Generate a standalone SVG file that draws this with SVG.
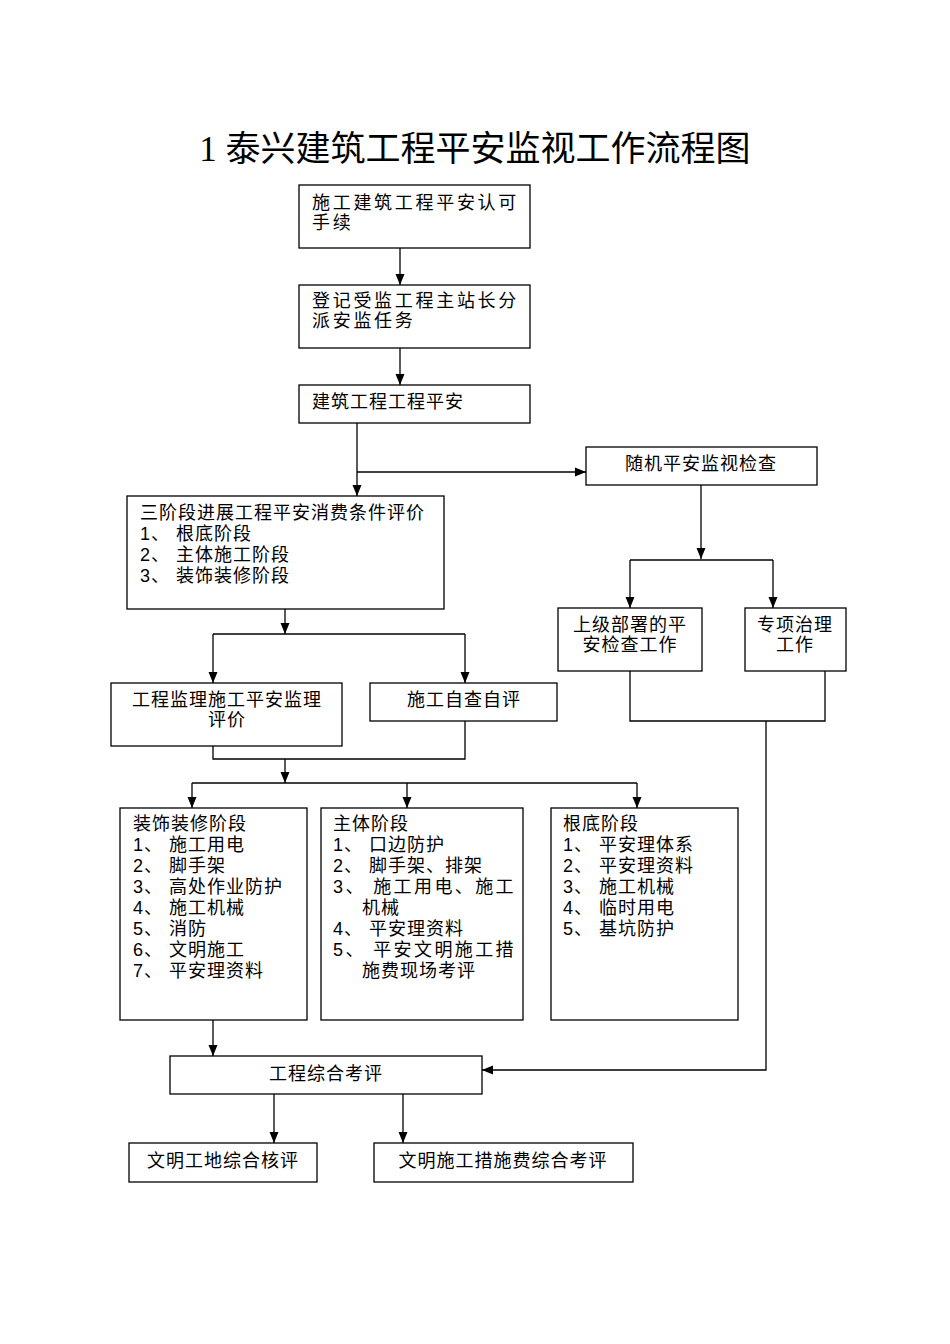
<svg xmlns="http://www.w3.org/2000/svg" width="950" height="1344" viewBox="0 0 950 1344">
<style>
.box{fill:#fff;stroke:#000;stroke-width:1.3}
.t{font-family:"Liberation Sans","Noto Sans CJK SC",sans-serif;font-size:18px;letter-spacing:1px;fill:#000}
.w{letter-spacing:2.7px}
.c{text-anchor:middle}
.ln{fill:none;stroke:#000;stroke-width:1.3}
.title{font-family:"Liberation Serif","Noto Sans CJK SC",serif;font-size:35px;fill:#000;text-anchor:middle}
</style>
<defs>
<marker id="ar" markerUnits="userSpaceOnUse" markerWidth="12" markerHeight="12" viewBox="0 0 12 12" refX="11" refY="6" orient="auto">
<path d="M0,1.5 L11,6 L0,10.5 Z" fill="#000"/>
</marker>
</defs>
<rect width="950" height="1344" fill="#fff"/>
<text class="title" x="475" y="161">1 泰兴建筑工程平安监视工作流程图</text>

<g id="connectors">
<path class="ln" d="M400,248 V285" marker-end="url(#ar)"/>
<path class="ln" d="M400,348 V385" marker-end="url(#ar)"/>
<path class="ln" d="M357,423 V496" marker-end="url(#ar)"/>
<path class="ln" d="M357,472 H586" marker-end="url(#ar)"/>
<path class="ln" d="M701,485 V559" marker-end="url(#ar)"/>
<path class="ln" d="M630,560 H773"/>
<path class="ln" d="M630,560 V608" marker-end="url(#ar)"/>
<path class="ln" d="M773,560 V608" marker-end="url(#ar)"/>
<path class="ln" d="M630,671 V721 H825 V671"/>
<path class="ln" d="M766,721 V1070 H482" marker-end="url(#ar)"/>
<path class="ln" d="M285,609 V634" marker-end="url(#ar)"/>
<path class="ln" d="M213,634 H465"/>
<path class="ln" d="M213,634 V683" marker-end="url(#ar)"/>
<path class="ln" d="M465,634 V683" marker-end="url(#ar)"/>
<path class="ln" d="M213,746 V759 H465 V721"/>
<path class="ln" d="M285,759 V783" marker-end="url(#ar)"/>
<path class="ln" d="M192,783 H637"/>
<path class="ln" d="M192,783 V808" marker-end="url(#ar)"/>
<path class="ln" d="M407,783 V808" marker-end="url(#ar)"/>
<path class="ln" d="M637,783 V808" marker-end="url(#ar)"/>
<path class="ln" d="M213,1020 V1056" marker-end="url(#ar)"/>
<path class="ln" d="M274,1094 V1143" marker-end="url(#ar)"/>
<path class="ln" d="M403,1094 V1143" marker-end="url(#ar)"/>
</g>

<g id="n1">
<rect class="box" x="299" y="185" width="231" height="63"/>
<text class="t w" x="312" y="209">施工建筑工程平安认可</text>
<text class="t w" x="312" y="229">手续</text>
</g>
<g id="n2">
<rect class="box" x="299" y="285" width="231" height="63"/>
<text class="t w" x="312" y="307">登记受监工程主站长分</text>
<text class="t w" x="312" y="327">派安监任务</text>
</g>
<g id="n3">
<rect class="box" x="299" y="385" width="231" height="38"/>
<text class="t" x="312" y="408">建筑工程工程平安</text>
</g>
<g id="n4">
<rect class="box" x="586" y="447" width="231" height="38"/>
<text class="t c" x="701" y="470">随机平安监视检查</text>
</g>
<g id="n5">
<rect class="box" x="127" y="496" width="317" height="113"/>
<text class="t" x="140" y="519">三阶段进展工程平安消费条件评价</text>
<text class="t" x="140" y="540">1、 根底阶段</text>
<text class="t" x="140" y="561">2、 主体施工阶段</text>
<text class="t" x="140" y="582">3、 装饰装修阶段</text>
</g>
<g id="n6">
<rect class="box" x="558" y="608" width="144" height="63"/>
<text class="t c" x="630" y="631">上级部署的平</text>
<text class="t c" x="630" y="651">安检查工作</text>
</g>
<g id="n7">
<rect class="box" x="745" y="608" width="101" height="63"/>
<text class="t c" x="795" y="631">专项治理</text>
<text class="t c" x="795" y="651">工作</text>
</g>
<g id="n8">
<rect class="box" x="111" y="683" width="231" height="63"/>
<text class="t c" x="227" y="706">工程监理施工平安监理</text>
<text class="t c" x="227" y="726">评价</text>
</g>
<g id="n9">
<rect class="box" x="370" y="683" width="187" height="38"/>
<text class="t c" x="464" y="706">施工自查自评</text>
</g>
<g id="n10">
<rect class="box" x="120" y="808" width="187" height="212"/>
<text class="t" x="133" y="830">装饰装修阶段</text>
<text class="t" x="133" y="851">1、 施工用电</text>
<text class="t" x="133" y="872">2、 脚手架</text>
<text class="t" x="133" y="893">3、 高处作业防护</text>
<text class="t" x="133" y="914">4、 施工机械</text>
<text class="t" x="133" y="935">5、 消防</text>
<text class="t" x="133" y="956">6、 文明施工</text>
<text class="t" x="133" y="977">7、 平安理资料</text>
</g>
<g id="n11">
<rect class="box" x="321" y="808" width="202" height="212"/>
<text class="t" x="333" y="830">主体阶段</text>
<text class="t" x="333" y="851">1、 口边防护</text>
<text class="t" x="333" y="872">2、 脚手架、排架</text>
<text class="t" x="333" y="893" style="letter-spacing:2.4px">3、 施工用电、施工</text>
<text class="t" x="362" y="914">机械</text>
<text class="t" x="333" y="935">4、 平安理资料</text>
<text class="t" x="333" y="956" style="letter-spacing:2.4px">5、 平安文明施工措</text>
<text class="t" x="362" y="977">施费现场考评</text>
</g>
<g id="n12">
<rect class="box" x="551" y="808" width="187" height="212"/>
<text class="t" x="563" y="830">根底阶段</text>
<text class="t" x="563" y="851">1、 平安理体系</text>
<text class="t" x="563" y="872">2、 平安理资料</text>
<text class="t" x="563" y="893">3、 施工机械</text>
<text class="t" x="563" y="914">4、 临时用电</text>
<text class="t" x="563" y="935">5、 基坑防护</text>
</g>
<g id="n13">
<rect class="box" x="170" y="1056" width="312" height="38"/>
<text class="t c" x="326" y="1080">工程综合考评</text>
</g>
<g id="n14">
<rect class="box" x="129" y="1143" width="188" height="39"/>
<text class="t c" x="223" y="1167">文明工地综合核评</text>
</g>
<g id="n15">
<rect class="box" x="374" y="1143" width="259" height="39"/>
<text class="t c" x="503" y="1167">文明施工措施费综合考评</text>
</g>
</svg>
